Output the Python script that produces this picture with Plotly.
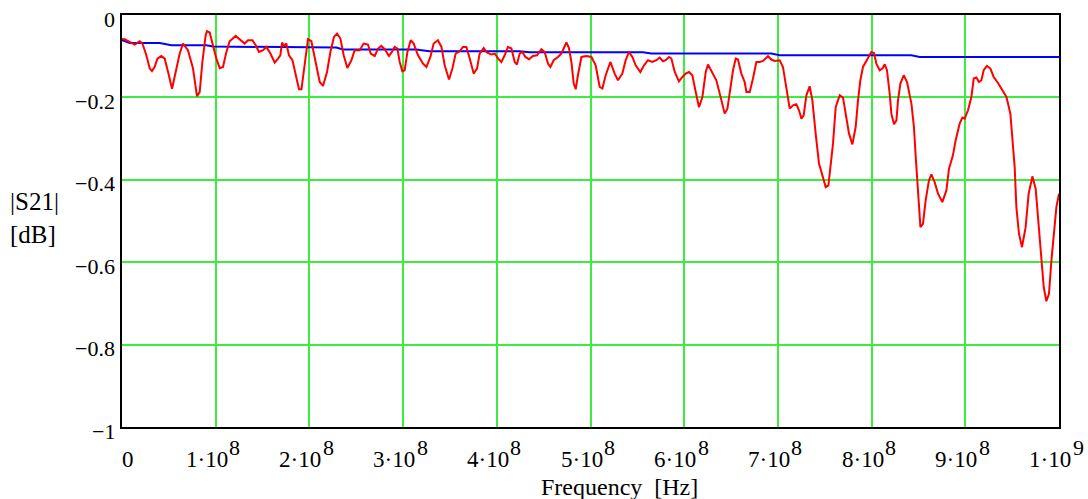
import plotly.graph_objects as go

# Measured transmission |S21| (red) and fitted loss model (blue), frequency in MHz
meas_mhz = [0, 2.9, 13.6, 18.9, 21.8, 26.0, 29.6, 32.0, 34.9, 37.8, 42.0, 45.6, 49.1, 53.4, 58.1,
            61.6, 65.1, 70.4, 75.8, 80.0, 82.9, 85.8, 89.3, 90.7, 93.6, 96.5, 100.7, 104.3, 107.8,
            111.4, 114.9, 121.3, 125.6, 130.9, 134.5, 139.2, 142.7, 146.2, 150.5, 154.1, 158.4,
            163.0, 166.5, 169.0, 170.8, 172.9, 175.4, 178.2, 181.9, 185.4, 188.9, 191.5, 195.0,
            198.5, 202.1, 205.7, 211.0, 214.5, 218.8, 222.4, 226.2, 229.5, 233.1, 236.6, 240.5,
            244.8, 248.3, 253.7, 257.9, 262.5, 265.4, 269.7, 273.2, 276.8, 280.4, 284.9, 288.1,
            291.0, 293.9, 296.4, 299.2, 301.7, 304.6, 308.1, 311.3, 315.9, 321.2, 324.9, 329.1,
            332.6, 337.2, 340.9, 344.4, 349.0, 352.6, 356.1, 360.4, 363.9, 367.5, 371.1, 375.3,
            378.9, 381.7, 386.0, 389.5, 394.2, 397.8, 401.3, 404.9, 408.4, 411.9, 415.6, 419.1,
            421.5, 424.4, 427.3, 430.5, 434.4, 438.6, 442.9, 447.6, 451.1, 454.6, 457.2, 460.7,
            465.3, 468.9, 471.4, 474.3, 477.0, 479.6, 482.1, 484.2, 486.6, 490.3, 495.6, 501.0,
            505.5, 509.8, 512.7, 516.2, 521.2, 525.8, 529.3, 534.0, 537.5, 541.1, 544.7, 548.2,
            553.2, 557.1, 561.4, 566.0, 570.3, 573.8, 577.4, 580.2, 583.8, 586.3, 589.9, 594.4,
            598.1, 601.6, 605.1, 608.7, 612.3, 615.8, 619.4, 623.0, 625.4, 630.7, 634.3, 639.7,
            643.2, 646.1, 648.6, 652.1, 655.0, 657.4, 661.0, 664.5, 666.4, 669.9, 673.4, 677.0,
            680.6, 684.1, 689.4, 693.0, 696.6, 701.9, 705.4, 709.1, 712.6, 716.1, 719.7, 722.5,
            725.1, 727.5, 730.4, 733.9, 736.8, 740.3, 743.9, 747.5, 751.0, 753.9, 757.1, 758.8,
            761.7, 766.0, 769.5, 772.3, 775.9, 779.5, 783.0, 785.5, 788.0, 790.8, 795.1, 799.8,
            802.5, 805.1, 808.6, 811.5, 814.0, 816.4, 819.3, 821.1, 823.9, 826.5, 828.2, 830.7,
            834.3, 837.8, 842.5, 845.2, 847.1, 849.5, 852.1, 854.8, 857.7, 861.2, 863.8, 867.3,
            870.9, 875.5, 879.8, 882.6, 886.8, 889.7, 894.0, 896.9, 899.3, 902.9, 906.5, 909.0,
            911.8, 914.6, 917.2, 919.6, 923.1, 926.8, 930.3, 934.9, 939.6, 943.9, 948.1, 950.2,
            952.7, 954.5, 957.3, 960.5, 964.4, 967.6, 971.6, 975.1, 978.6, 981.2, 983.7, 986.5,
            989.3, 991.9, 995.4, 997.2, 1000.0]
meas_db = [-0.058, -0.059, -0.0717, -0.0637, -0.0693, -0.0977, -0.130, -0.136, -0.126, -0.106,
           -0.0994, -0.106, -0.138, -0.179, -0.130, -0.0936, -0.0693, -0.0855, -0.130, -0.197,
           -0.187, -0.114, -0.049, -0.0394, -0.0425, -0.0693, -0.106, -0.129, -0.126, -0.0898,
           -0.0637, -0.0508, -0.0588, -0.0693, -0.0612, -0.0612, -0.0734, -0.0897, -0.0855,
           -0.0775, -0.0936, -0.1154, -0.1057, -0.0977, -0.0668, -0.0751, -0.0693, -0.0977,
           -0.1098, -0.1463, -0.1803, -0.1803, -0.114, -0.0588, -0.0637, -0.1018, -0.1626,
           -0.1723, -0.1383, -0.0897, -0.0532, -0.045, -0.0571, -0.0977, -0.1285, -0.1098,
           -0.0855, -0.0855, -0.0693, -0.0717, -0.0936, -0.0994, -0.0814, -0.0751, -0.0831,
           -0.0994, -0.0897, -0.0775, -0.0814, -0.114, -0.1366, -0.1341, -0.0897, -0.0612,
           -0.0693, -0.0977, -0.1179, -0.1261, -0.1018, -0.0693, -0.0612, -0.0775, -0.122,
           -0.1567, -0.130, -0.0936, -0.088, -0.0775, -0.0775, -0.1057, -0.1422, -0.130,
           -0.0936, -0.080, -0.0911, -0.096, -0.0936, -0.1057, -0.114, -0.0977, -0.0775,
           -0.0814, -0.114, -0.1203, -0.0936, -0.0897, -0.1018, -0.1074, -0.0994, -0.0977,
           -0.0831, -0.0897, -0.1179, -0.1261, -0.1098, -0.1018, -0.0936, -0.0814, -0.0668,
           -0.080, -0.114, -0.1665, -0.1803, -0.1463, -0.1018, -0.0994, -0.1018, -0.122,
           -0.1747, -0.1786, -0.1463, -0.114, -0.1422, -0.1584, -0.1422, -0.1098, -0.0897,
           -0.1018, -0.122, -0.1383, -0.122, -0.1098, -0.114, -0.1098, -0.1033, -0.1123,
           -0.1098, -0.1018, -0.1057, -0.1383, -0.1609, -0.1504, -0.1422, -0.1383, -0.1463,
           -0.1869, -0.224, -0.199, -0.1383, -0.1203, -0.1422, -0.1584, -0.207, -0.2394,
           -0.2272, -0.1827, -0.1341, -0.1057, -0.1081, -0.1422, -0.1626, -0.1869, -0.1869,
           -0.1543, -0.114, -0.114, -0.1115, -0.1001, -0.1081, -0.1115, -0.1098, -0.1261,
           -0.1747, -0.2272, -0.2192, -0.2168, -0.2313, -0.2515, -0.2435, -0.1949, -0.173,
           -0.207, -0.288, -0.3609, -0.3893, -0.4177, -0.4136, -0.3366, -0.3123, -0.2233,
           -0.1949, -0.2005, -0.2394, -0.288, -0.314, -0.2719, -0.207, -0.1584, -0.1261,
           -0.1081, -0.0897, -0.0921, -0.1179, -0.1341, -0.130, -0.1196, -0.1341, -0.1908,
           -0.2394, -0.2654, -0.2557, -0.207, -0.1665, -0.1463, -0.1626, -0.2151, -0.2719,
           -0.3448, -0.4177, -0.515, -0.5067, -0.45, -0.4015, -0.3869, -0.4056, -0.4338,
           -0.4542, -0.4258, -0.373, -0.3407, -0.3042, -0.2637, -0.2491, -0.2515, -0.2313,
           -0.199, -0.1543, -0.1519, -0.1626, -0.1584, -0.1341, -0.1237, -0.130, -0.1504,
           -0.165, -0.1827, -0.199, -0.2394, -0.3042, -0.3691, -0.4663, -0.531, -0.5635,
           -0.5149, -0.4338, -0.3917, -0.4217, -0.5149, -0.5958, -0.6607, -0.6947, -0.6768,
           -0.5958, -0.5149, -0.4663, -0.4338]

model_mhz = [0, 8.2, 40.2, 52.7, 90.0, 97.0, 228.8, 235.8, 314.0, 328.0, 424.0, 435.0,
             556.0, 565.0, 693.0, 702.0, 842.4, 851.3, 1000.0]
model_db = [-0.0612, -0.0678, -0.0678, -0.0734, -0.0734, -0.0765, -0.0790, -0.0838, -0.0838,
            -0.088, -0.088, -0.0904, -0.0904, -0.0936, -0.0936, -0.0977, -0.0977, -0.1018,
            -0.1018]

x_tick_vals = [0, 1e8, 2e8, 3e8, 4e8, 5e8, 6e8, 7e8, 8e8, 9e8, 1e9]
x_tick_mant = ["0", "1\u00b710", "2\u00b710", "3\u00b710", "4\u00b710", "5\u00b710",
               "6\u00b710", "7\u00b710", "8\u00b710", "9\u00b710", "1\u00b710"]
x_tick_exp = ["", "8", "8", "8", "8", "8", "8", "8", "8", "8", "9"]
y_tick_vals = [0, -0.2, -0.4, -0.6, -0.8, -1]
y_tick_text = ["0", "\u22120.2", "\u22120.4", "\u22120.6", "\u22120.8", "\u22121"]

FONT = "Liberation Serif, Times New Roman, serif"
GRID = "#3cee3c"

meas_hz = [m * 1e6 for m in meas_mhz]
model_hz = [m * 1e6 for m in model_mhz]

fig = go.Figure()
fig.add_trace(go.Scatter(x=model_hz, y=model_db, mode="lines",
                         line=dict(color="#0000ff", width=2), showlegend=False))
fig.add_trace(go.Scatter(x=meas_hz, y=meas_db, mode="lines",
                         line=dict(color="#ff0000", width=2), showlegend=False))

axis_common = dict(showgrid=True, gridcolor=GRID, gridwidth=1.5, zeroline=False,
                   showline=True, linecolor="black", linewidth=2, mirror=True,
                   ticks="", showticklabels=False, automargin=False)
fig.update_layout(
    width=1088, height=499,
    margin=dict(l=122, r=29, t=15, b=72),
    paper_bgcolor="white", plot_bgcolor="white",
    font=dict(family=FONT, size=22, color="black"),
    xaxis=dict(range=[0, 1e9], tickvals=x_tick_vals, **axis_common),
    yaxis=dict(range=[-1, 0], tickvals=y_tick_vals, **axis_common),
)

# y tick labels, right-aligned just left of the frame
for val, txt in zip(y_tick_vals, y_tick_text):
    fig.add_annotation(text=txt, xref="paper", yref="y", x=0, y=val,
                       xanchor="right", yanchor="middle", xshift=-5, yshift=-4,
                       showarrow=False, font=dict(size=22))

# x tick labels in "m·10^e" form with full-size raised exponents
for val, mant, exp in zip(x_tick_vals, x_tick_mant, x_tick_exp):
    if exp:
        fig.add_annotation(text=mant, xref="x", yref="paper", x=val, y=0,
                           xanchor="center", yanchor="middle", xshift=-9, yshift=-32,
                           showarrow=False, font=dict(size=23))
        fig.add_annotation(text=exp, xref="x", yref="paper", x=val, y=0,
                           xanchor="center", yanchor="middle", xshift=19, yshift=-20,
                           showarrow=False, font=dict(size=22))
    else:
        fig.add_annotation(text=mant, xref="x", yref="paper", x=val, y=0,
                           xanchor="center", yanchor="middle", xshift=6, yshift=-32,
                           showarrow=False, font=dict(size=23))

fig.add_annotation(text="|S21|<br>[dB]", xref="paper", yref="paper", x=0, y=0.5,
                   xanchor="left", yanchor="middle", xshift=-114, yshift=3,
                   showarrow=False, align="left", font=dict(size=25))
fig.add_annotation(text="Frequency\u00a0 [Hz]", xref="paper", yref="paper", x=0.531, y=0,
                   xanchor="center", yanchor="middle", yshift=-60,
                   showarrow=False, font=dict(size=24))

fig.write_html("out.html")
